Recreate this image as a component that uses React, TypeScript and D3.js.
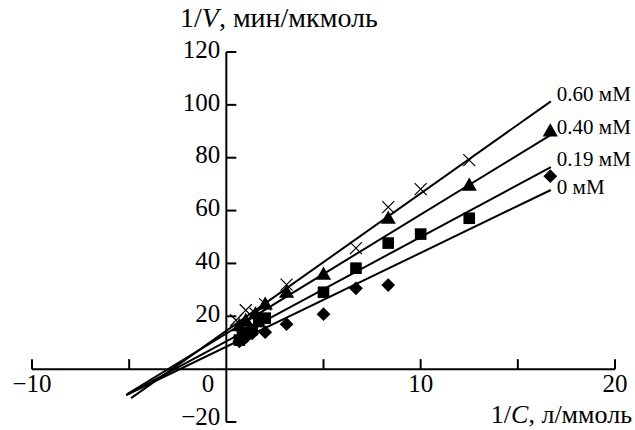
import * as d3 from 'd3';
import React from 'react';

// concentrations of inhibitor, one fitted line per series
const labels = ['0.60 мМ', '0.40 мМ', '0.19 мМ', '0 мМ'];
const slopes = [5.2, 4.5, 3.95, 3.55];
const intercepts = [14.5, 13.5, 10.5, 8.5];
const lineFrom = [-4.9, -5.1, -5.15, -5.15];
const lineTo = 16.7;

// measured points, 1/C and 1/V
const crossX = [0.5, 1.0, 1.5, 2.0, 3.1, 6.67, 8.33, 10, 12.5];
const crossY = [18.5, 22.3, 21, 24.5, 32, 45.8, 61.3, 68.1, 79.1];
const triX = [0.67, 1.0, 1.5, 2.0, 3.1, 5, 8.33, 12.5, 16.67];
const triY = [16, 18, 20.5, 24.2, 28.7, 35.5, 56.7, 69.2, 89.7];
const sqX = [0.67, 0.83, 1.0, 1.33, 1.67, 2.0, 5, 6.67, 8.33, 10, 12.5];
const sqY = [11, 12.5, 14, 15, 18, 19.3, 29.1, 38.2, 47.7, 51.1, 57.1];
const diaX = [0.67, 1.0, 1.33, 2.0, 3.1, 5, 6.67, 8.33, 16.67];
const diaY = [10.5, 12, 13.5, 14, 17, 20.8, 30.6, 31.8, 73];

const xTicks = [-10, -5, 0, 5, 10, 15, 20];
const xTickLabels = ['−10', '', '0', '', '10', '', '20'];
const yTicks = [-20, 20, 40, 60, 80, 100, 120];
const yTickLabels = ['−20', '20', '40', '60', '80', '100', '120'];

const font = '"Liberation Serif", "Times New Roman", serif';
const labelDy = [-5, -6, -6, -1];

export default function App() {
  const x = d3.scaleLinear().domain([-10, 20]).range([32, 615]);
  const y = d3.scaleLinear().domain([-20, 120]).range([422, 52]);
  const x0 = x(0);
  const y0 = y(0);

  const sym = d3.symbol();
  const sqPath = sym.type(d3.symbolSquare).size(135)() as string;
  const triPath = sym.type(d3.symbolTriangle).size(100)() as string;
  const diaPath = sym.type(d3.symbolSquare).size(95)() as string;

  return (
    <svg width={635} height={430} style={{ position: 'absolute', left: 0, top: 0, background: '#fff' }}
      fontFamily={font}>
      {/* axes */}
      <line x1={x(-10)} x2={x(20)} y1={y0} y2={y0} stroke="#000" strokeWidth={2} />
      <line x1={x0} x2={x0} y1={y(-20)} y2={y(120)} stroke="#000" strokeWidth={2} />
      {xTicks.map((t, i) => (
        <g key={'xt' + t}>
          {t !== 0 && <line x1={x(t)} x2={x(t)} y1={y0} y2={y0 - 10} stroke="#000" strokeWidth={2} />}
          <text x={t === 0 ? x0 - 12 : x(t)} y={y0 + 17} fontSize={25}
            textAnchor={t === 0 ? 'end' : 'middle'} dominantBaseline="middle">{xTickLabels[i]}</text>
        </g>
      ))}
      {yTicks.map((t, i) => (
        <g key={'yt' + t}>
          <line x1={x0} x2={x0 + 10} y1={y(t)} y2={y(t)} stroke="#000" strokeWidth={2} />
          <text x={x0 - 6} y={t === -20 ? y(t) - 3 : y(t)} fontSize={25} textAnchor="end"
            dominantBaseline="middle">{yTickLabels[i]}</text>
        </g>
      ))}
      <text x={180} y={27} fontSize={28}>1/<tspan fontStyle="italic">V</tspan>, мин/мкмоль</text>
      <text x={632} y={423} fontSize={26} textAnchor="end">1/<tspan fontStyle="italic">C</tspan>, л/ммоль</text>

      {/* fitted lines */}
      {labels.map((lab, i) => {
        const f = (v: number) => intercepts[i] + slopes[i] * v;
        return (
          <g key={lab}>
            <line x1={x(lineFrom[i])} y1={y(f(lineFrom[i]))} x2={x(lineTo)} y2={y(f(lineTo))}
              stroke="#000" strokeWidth={2} />
            <text x={x(lineTo) + 6} y={y(f(lineTo)) + labelDy[i]} fontSize={21}
              dominantBaseline="middle">{lab}</text>
          </g>
        );
      })}

      {/* points */}
      {crossX.map((v, i) => (
        <path key={'c' + i} transform={`translate(${x(v)},${y(crossY[i])})`}
          d="M-6,-6L6,6M-6,6L6,-6" stroke="#000" strokeWidth={1.2} fill="none" />
      ))}
      {triX.map((v, i) => (
        <path key={'t' + i} transform={`translate(${x(v)},${y(triY[i])})`} d={triPath} fill="#000" />
      ))}
      {sqX.map((v, i) => (
        <path key={'s' + i} transform={`translate(${x(v)},${y(sqY[i])})`} d={sqPath} fill="#000" />
      ))}
      {diaX.map((v, i) => (
        <path key={'d' + i} transform={`translate(${x(v)},${y(diaY[i])}) rotate(45)`} d={diaPath} fill="#000" />
      ))}
    </svg>
  );
}
